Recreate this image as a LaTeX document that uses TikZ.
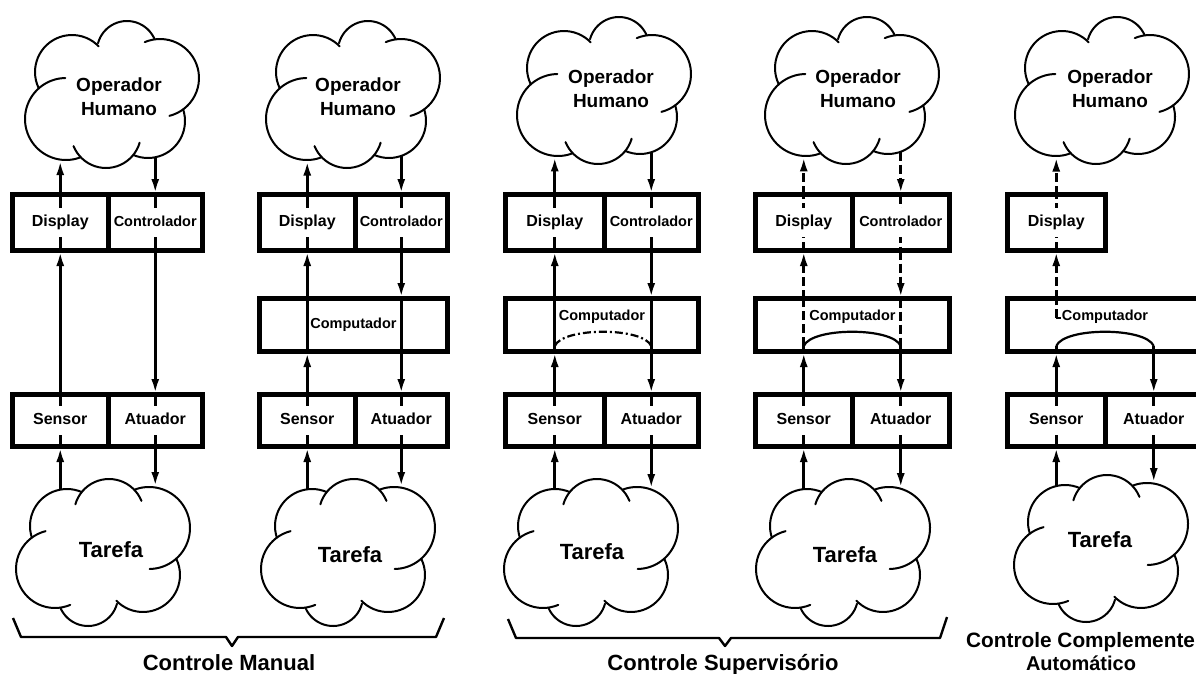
\documentclass[tikz,border=0pt]{standalone}
\usepackage{fontspec}
\setmainfont{Liberation Sans}
\usetikzlibrary{arrows.meta}
\begin{document}
\begin{tikzpicture}[x=1pt,y=-1pt,
  cloudline/.style={line width=2pt, line cap=round},
  cell/.style={inner sep=0pt, outer sep=0pt},
  frame/.style={draw, line width=5pt},
  wire/.style={line width=2.6pt},
  arr/.style={wire, -{Latex[length=14pt,width=8pt]}, shorten >=1.5pt},
  hdash/.style={dash pattern=on 9pt off 4pt},
  dashdot/.style={line width=2.2pt, dash pattern=on 8pt off 3pt on 2pt off 3pt},
  lbl/.style={fill=white, inner xsep=1pt, inner ysep=7pt, text height=12pt, text depth=3.5pt,
    font=\bfseries\fontsize{16}{16}\selectfont},
  lbls/.style={lbl, font=\bfseries\fontsize{14.5}{14.5}\selectfont},
  tag/.style={inner sep=1pt, font=\bfseries\fontsize{14.5}{14.5}\selectfont},
  optext/.style={align=center, inner sep=0pt, font=\bfseries\fontsize{19}{24}\selectfont},
  tftext/.style={inner sep=0pt, font=\bfseries\fontsize{22}{22}\selectfont},
  captext/.style={inner sep=0pt, anchor=base, font=\bfseries\fontsize{22}{22}\selectfont},
  capsmall/.style={inner sep=0pt, font=\bfseries\fontsize{20.8}{20.8}\selectfont},
  cloudshape/.pic={
    \draw[cloudline] plot[smooth,domain=195:337,samples=24] ({16+30*cos(\x)},{-43+30*sin(\x)});
    \draw[cloudline] plot[smooth,domain=247:436,samples=32] ({49+39*cos(\x)},{-16+39*sin(\x)});
    \draw[cloudline] plot[smooth,domain=-18:113,samples=24] ({37+37*cos(\x)},{27+37*sin(\x)});
    \draw[cloudline] plot[smooth,domain=16:158,samples=24] ({-5+35*cos(\x)},{39+35*sin(\x)});
    \draw[cloudline] plot[smooth,domain=70:269,samples=32] ({-45+41*cos(\x)},{25+41*sin(\x)});
    \draw[cloudline] plot[smooth,domain=155:316,samples=28] ({-39+37*cos(\x)},{-22+37*sin(\x)});
  }]
\useasboundingbox (0,0) rectangle (1196,674);

% ---------- cells (frames are drawn last) ----------
% Controle manual, direct
\node[cell, minimum width=95.5pt, minimum height=56pt] (d1) at (60.25,222.5) {};
\node[cell, minimum width=94.5pt, minimum height=56pt] (c1) at (155.25,222.5) {};
\node[cell, minimum width=95.5pt, minimum height=52pt] (s1) at (60.25,420.5) {};
\node[cell, minimum width=94.5pt, minimum height=52pt] (a1) at (155.25,420.5) {};
% Controle manual, with computer
\node[cell, minimum width=95.5pt, minimum height=56pt] (d2) at (307.25,222.5) {};
\node[cell, minimum width=92.5pt, minimum height=56pt] (c2) at (401.25,222.5) {};
\node[cell, minimum width=188pt, minimum height=53pt] (p2) at (353.5,325) {};
\node[cell, minimum width=95.5pt, minimum height=52pt] (s2) at (307.25,420.5) {};
\node[cell, minimum width=92.5pt, minimum height=52pt] (a2) at (401.25,420.5) {};
% Controle supervisorio, first
\node[cell, minimum width=98.5pt, minimum height=56pt] (d3) at (554.75,222.5) {};
\node[cell, minimum width=94.5pt, minimum height=56pt] (c3) at (651.25,222.5) {};
\node[cell, minimum width=193pt, minimum height=53pt] (p3) at (602,325) {};
\node[cell, minimum width=98.5pt, minimum height=52pt] (s3) at (554.75,420.5) {};
\node[cell, minimum width=94.5pt, minimum height=52pt] (a3) at (651.25,420.5) {};
% Controle supervisorio, second
\node[cell, minimum width=96.5pt, minimum height=56pt] (d4) at (803.75,222.5) {};
\node[cell, minimum width=97.5pt, minimum height=56pt] (c4) at (900.75,222.5) {};
\node[cell, minimum width=194pt, minimum height=53pt] (p4) at (852.5,325) {};
\node[cell, minimum width=96.5pt, minimum height=52pt] (s4) at (803.75,420.5) {};
\node[cell, minimum width=97.5pt, minimum height=52pt] (a4) at (900.75,420.5) {};
% Controle automatico
\node[cell, minimum width=97.5pt, minimum height=56pt] (d5) at (1056.25,222.5) {};
\node[cell, minimum width=195pt, minimum height=53pt] (p5) at (1105,325) {};
\node[cell, minimum width=97.5pt, minimum height=52pt] (s5) at (1056.25,420.5) {};
\node[cell, minimum width=97.5pt, minimum height=52pt] (a5) at (1153.75,420.5) {};

% ---------- clouds ----------
\pic at (111,94) {cloudshape};
\pic at (352,94) {cloudshape};
\pic at (603,90) {cloudshape};
\pic at (851,90) {cloudshape};
\pic at (1101,90) {cloudshape};
\pic[rotate=180] at (104,553) {cloudshape};
\pic[rotate=180] at (349,553) {cloudshape};
\pic[rotate=180] at (592,553) {cloudshape};
\pic[rotate=180] at (844,553) {cloudshape};
\pic[rotate=180] at (1102,549) {cloudshape};

\node[optext] (op1) at (119,97) {Operador\\Humano};
\node[optext] (op2) at (358,97) {Operador\\Humano};
\node[optext] (op3) at (611,89) {Operador\\Humano};
\node[optext] (op4) at (858,89) {Operador\\Humano};
\node[optext] (op5) at (1110,89) {Operador\\Humano};
\node[tftext] (tf1) at (111,550) {Tarefa};
\node[tftext] (tf2) at (350,555) {Tarefa};
\node[tftext] (tf3) at (592,552) {Tarefa};
\node[tftext] (tf4) at (845,555) {Tarefa};
\node[tftext] (tf5) at (1100,540) {Tarefa};

% where the signal lines meet the clouds
\coordinate (o1l) at (60.25,159.6);  \coordinate (o1r) at (155.25,157.3);
\coordinate (t1l) at (60.25,489.6);  \coordinate (t1r) at (155.25,487.5);
\coordinate (o2l) at (307.25,160);   \coordinate (o2r) at (401.25,155.9);
\coordinate (t2l) at (307.25,489.3); \coordinate (t2r) at (401.25,487.6);
\coordinate (o3l) at (554.75,155.9); \coordinate (o3r) at (651.25,152.2);
\coordinate (t3l) at (554.75,489);   \coordinate (t3r) at (651.25,489.6);
\coordinate (o4l) at (803.75,155.9); \coordinate (o4r) at (900.75,151.7);
\coordinate (t4l) at (803.75,489.1); \coordinate (t4r) at (900.75,488.7);
\coordinate (o5l) at (1056.25,156);
\coordinate (t5l) at (1056.25,486.1); \coordinate (t5r) at (1153.75,483.6);
% loop junctions inside the computer
\coordinate (j3l) at (554.75,346);  \coordinate (j3r) at (651.25,346);
\coordinate (j4l) at (803.75,346);  \coordinate (j4r) at (900.75,346);
\coordinate (j5l) at (1056.25,346); \coordinate (j5r) at (1153.75,346);
\coordinate (k5) at (1056.25,318);

% ---------- signal lines ----------
% column 1
\draw[arr] (t1l) -- (s1.south);
\draw[wire] (s1.south) -- (s1.north);
\draw[arr] (s1.north) -- (d1.south);
\draw[wire] (d1.south) -- (d1.north);
\draw[arr] (d1.north) -- (o1l);
\draw[arr] (o1r) -- (c1.north);
\draw[wire] (c1.north) -- (c1.south);
\draw[arr] (c1.south) -- (a1.north);
\draw[wire] (a1.north) -- (a1.south);
\draw[arr] (a1.south) -- (t1r);
% column 2
\draw[arr] (t2l) -- (s2.south);
\draw[wire] (s2.south) -- (s2.north);
\draw[arr] (s2.north) -- (p2.south -| s2);
\draw[wire] (p2.south -| s2) -- (p2.north -| s2);
\draw[arr] (p2.north -| s2) -- (d2.south);
\draw[wire] (d2.south) -- (d2.north);
\draw[arr] (d2.north) -- (o2l);
\draw[arr] (o2r) -- (c2.north);
\draw[wire] (c2.north) -- (c2.south);
\draw[arr] (c2.south) -- (p2.north -| c2);
\draw[wire] (p2.north -| c2) -- (p2.south -| c2);
\draw[arr] (p2.south -| c2) -- (a2.north);
\draw[wire] (a2.north) -- (a2.south);
\draw[arr] (a2.south) -- (t2r);
% column 3
\draw[arr] (t3l) -- (s3.south);
\draw[wire] (s3.south) -- (s3.north);
\draw[arr] (s3.north) -- (p3.south -| s3);
\draw[wire] (p3.south -| s3) -- (p3.north -| s3);
\draw[arr] (p3.north -| s3) -- (d3.south);
\draw[wire] (d3.south) -- (d3.north);
\draw[arr] (d3.north) -- (o3l);
\draw[arr] (o3r) -- (c3.north);
\draw[wire] (c3.north) -- (c3.south);
\draw[arr] (c3.south) -- (p3.north -| c3);
\draw[wire] (p3.north -| c3) -- (p3.south -| c3);
\draw[arr] (p3.south -| c3) -- (a3.north);
\draw[wire] (a3.north) -- (a3.south);
\draw[arr] (a3.south) -- (t3r);
\draw[dashdot] (j3l) .. controls +(8,-19) and +(-8,-19) .. (j3r);
% column 4
\draw[arr] (t4l) -- (s4.south);
\draw[wire] (s4.south) -- (s4.north);
\draw[arr] (s4.north) -- (p4.south -| s4);
\draw[wire] (p4.south -| s4) -- (j4l);
\draw[wire, hdash] (j4l) -- (p4.north -| s4);
\draw[arr, hdash] (p4.north -| s4) -- (d4.south);
\draw[wire, hdash] (d4.south) -- (d4.north);
\draw[arr, hdash] (d4.north) -- (o4l);
\draw[arr, hdash] (o4r) -- (c4.north);
\draw[wire, hdash] (c4.north) -- (c4.south);
\draw[arr, hdash] (c4.south) -- (p4.north -| c4);
\draw[wire, hdash] (p4.north -| c4) -- (j4r);
\draw[wire] (j4r) -- (p4.south -| c4);
\draw[arr] (p4.south -| c4) -- (a4.north);
\draw[wire] (a4.north) -- (a4.south);
\draw[arr] (a4.south) -- (t4r);
\draw[line width=2.2pt] (j4l) .. controls +(8,-19) and +(-8,-19) .. (j4r);
% column 5
\draw[arr] (t5l) -- (s5.south);
\draw[wire] (s5.south) -- (s5.north);
\draw[arr] (s5.north) -- (p5.south -| s5);
\draw[wire] (p5.south -| s5) -- (j5l);
\draw[line width=2.2pt] (j5l) .. controls +(8,-19) and +(-8,-19) .. (j5r);
\draw[wire] (j5r) -- (p5.south -| a5);
\draw[arr] (p5.south -| a5) -- (a5.north);
\draw[wire] (a5.north) -- (a5.south);
\draw[arr] (a5.south) -- (t5r);
\draw[wire, hdash] (k5) -- (p5.north -| s5);
\draw[line width=1.6pt] (k5) -- ++(5,0);
\draw[arr, hdash] (p5.north -| s5) -- (d5.south);
\draw[wire, hdash] (d5.south) -- (d5.north);
\draw[arr, hdash] (d5.north) -- (o5l);

% ---------- cell texts ----------
\node[lbl] at (d1) {Display};   \node[lbls] at (c1) {Controlador};
\node[lbl] at (s1) {Sensor};    \node[lbl] at (a1) {Atuador};
\node[lbl] at (d2) {Display};   \node[lbls] at (c2) {Controlador};
\node[tag] at (p2) {Computador};
\node[lbl] at (s2) {Sensor};    \node[lbl] at (a2) {Atuador};
\node[lbl] at (d3) {Display};   \node[lbls] at (c3) {Controlador};
\node[tag] at ([yshift=8pt]p3.center) {Computador};
\node[lbl] at (s3) {Sensor};    \node[lbl] at (a3) {Atuador};
\node[lbl] at (d4) {Display};   \node[lbls] at (c4) {Controlador};
\node[tag] at ([yshift=8pt]p4.center) {Computador};
\node[lbl] at (s4) {Sensor};    \node[lbl] at (a4) {Atuador};
\node[lbl] at (d5) {Display};
\node[tag] at ([yshift=8pt]p5.center) {Computador};
\node[lbl] at (s5) {Sensor};    \node[lbl] at (a5) {Atuador};

% ---------- frames ----------
\foreach \n in {d1,c1,s1,a1,d2,c2,p2,s2,a2,d3,c3,p3,s3,a3,d4,c4,p4,s4,a4,d5,p5,s5,a5}
  \draw[frame] (\n.south west) rectangle (\n.north east);

% ---------- group braces and captions ----------
\draw[line width=2.4pt, line join=round]
  (13,618) -- (21,637) -- (226,637) -- (232,646) -- (238,637) -- (436,637) -- (444,618);
\draw[line width=2.4pt, line join=round]
  (508,619) -- (516,638) -- (719,638) -- (725,646) -- (731,638) -- (940,638) -- (947,617);
\node[captext] (capa) at (229,670) {Controle Manual};
\node[captext] (capb) at (723,670) {Controle Supervisório};
\node[capsmall, anchor=base west] (capc) at (966,647) {Controle Complemente};
\node[capsmall, anchor=base, font=\bfseries\fontsize{20}{20}\selectfont] (capd) at (1081,670) {Automático};
\end{tikzpicture}
\end{document}
